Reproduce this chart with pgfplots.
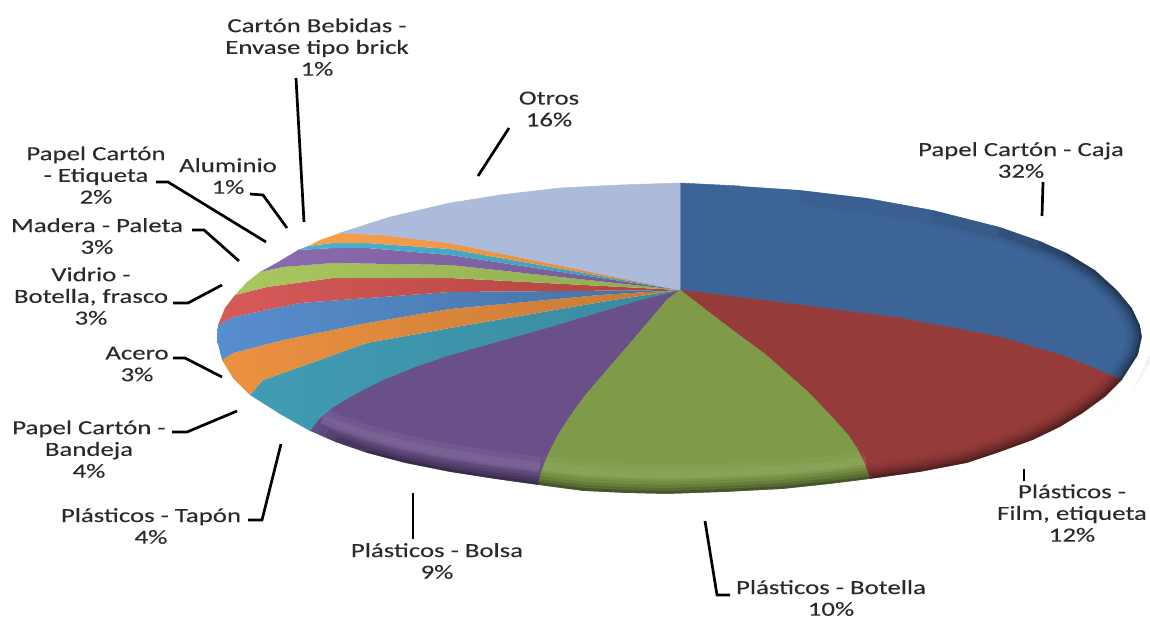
\documentclass[border=0pt]{standalone}
\usepackage{fontspec}
\setmainfont[FakeStretch=1.34,FakeBold=0.15]{Carlito}
\usepackage{pgfplots}
\pgfplotsset{compat=1.18}
\definecolor{txt}{HTML}{2A2A2A}
\definecolor{cOtros}{HTML}{ABBBD9}
\definecolor{cCaja}{HTML}{3D6497}
\definecolor{cFilm}{HTML}{953B3A}
\definecolor{cBot}{HTML}{7F9B49}
\definecolor{cBolsa}{HTML}{6A5088}
\definecolor{tapA}{HTML}{409CB4}\definecolor{tapB}{HTML}{3A8A9E}
\definecolor{banA}{HTML}{EC9140}\definecolor{banB}{HTML}{C47A35}
\definecolor{aceA}{HTML}{578ECF}\definecolor{aceB}{HTML}{44719F}
\definecolor{vidA}{HTML}{D75A59}\definecolor{vidB}{HTML}{AC4240}
\definecolor{madA}{HTML}{A9C75E}\definecolor{madB}{HTML}{8FAB50}
\definecolor{etiA}{HTML}{8B6BAF}\definecolor{etiB}{HTML}{735A93}
\definecolor{aluA}{HTML}{48B2CF}\definecolor{aluB}{HTML}{3F9AB0}
\definecolor{briA}{HTML}{F99F4A}\definecolor{briB}{HTML}{DD8B3F}
\tikzset{lab/.style={font=\fontsize{20}{21.7}\selectfont,text=txt,align=center,inner sep=0pt}}
\pgfplotsset{
  sl/.style={draw=#1,line width=0.5pt,fill=#1,no markers,forget plot},
  gr/.style 2 args={draw=none,left color=#1,right color=#2,no markers,forget plot},
  rim/.style 2 args={draw=black,draw opacity=#2,line width=#1pt,line join=round,no markers,forget plot},
  lite/.style 2 args={draw=white,draw opacity=#2,line width=#1pt,line join=round,no markers,forget plot},
  ld/.style={draw=black,line width=2.7pt,no markers,forget plot},
}
\begin{document}
\begin{tikzpicture}
\useasboundingbox (0,0) rectangle (1150pt,619pt);
\begin{axis}[
  scale only axis,width=1150pt,height=619pt,
  xmin=0,xmax=1150,ymin=0,ymax=619,y dir=reverse,
  hide axis,clip=false,
]
% slices, clockwise from the top
\addplot[sl=cCaja] coordinates {(680,290)(680,183)(740,186)(800,190)(867,198)(933,210)(1000,227)(1040,241)(1067,253)(1095,270)(1117,290)(1132,308)(1140,325)(1142,337)(1138,355)(1122,380)(1067,357)(1000,337)(900,318)(800,305)} -- cycle;
\addplot[sl=cFilm] coordinates {(680,290)(800,305)(900,318)(1000,337)(1067,357)(1122,380)(1105,397)(1083,413)(1060,427)(1033,440)(1000,452)(967,463)(920,472)(870,479)(865,465)(858,450)(848,435)(830,415)(808,392)(783,370)(766,355)(743,338)(719,320)(693,300)} -- cycle;
\addplot[sl=cBolsa] coordinates {(680,290)(667,300)(627,347)(607,370)(584,397)(569,418)(557,437)(548,455)(541,473)(538,485)(495,479)(450,472)(405,463)(367,453)(335,442)(310,431)(320,418)(333,407)(357,393)(383,380)(415,367)(450,355)(550,327)(640,300)} -- cycle;
\addplot[sl=cBot] coordinates {(680,290)(693,300)(719,320)(743,338)(766,355)(783,370)(808,392)(830,415)(848,435)(858,450)(865,465)(870,479)(830,484)(783,489)(725,492)(667,494)(625,493)(583,491)(538,485)(541,473)(548,455)(557,437)(569,418)(584,397)(607,370)(627,347)(667,300)} -- cycle;
\addplot[gr={tapA}{tapB}] coordinates {(680,290)(640,300)(550,327)(450,355)(415,367)(383,380)(357,393)(333,407)(320,418)(310,431)(280,414)(250,395)(263,380)(300,367)(367,343)(450,328)(613,300)} -- cycle;
\addplot[gr={banA}{banB}] coordinates {(680,290)(613,300)(450,328)(367,343)(300,367)(263,380)(250,395)(233,378)(222,360)(233,353)(283,340)(367,323)(450,309)(600,295)} -- cycle;
\addplot[gr={aceA}{aceB}] coordinates {(680,290)(600,295)(450,309)(367,323)(283,340)(233,353)(222,360)(217,340)(218,325)(233,317)(300,303)(450,292)} -- cycle;
\addplot[gr={vidA}{vidB}] coordinates {(680,290)(450,292)(300,303)(233,317)(218,325)(225,308)(235,295)(267,287)(333,278)(450,278)} -- cycle;
\addplot[gr={madA}{madB}] coordinates {(680,290)(450,278)(333,278)(267,287)(235,295)(247,282)(260,272)(283,267)(333,263)(450,265)} -- cycle;
\addplot[gr={etiA}{etiB}] coordinates {(680,290)(450,265)(333,263)(283,267)(260,272)(278,262)(298,250)(333,248)(367,248)(450,255)} -- cycle;
\addplot[gr={aluA}{aluB}] coordinates {(680,290)(450,255)(367,248)(333,248)(298,250)(308,246)(333,243)(367,243)(450,249)} -- cycle;
\addplot[gr={briA}{briB}] coordinates {(680,290)(450,249)(367,243)(333,243)(308,246)(320,240)(340,233)(383,235)(450,243)} -- cycle;
\addplot[sl=cOtros] coordinates {(680,290)(680,183)(620,185)(560,188)(500,195)(450,203)(390,217)(340,233)(383,235)(450,243)} -- cycle;
% soft highlight above the lower rim
\addplot[lite={16}{0.04}] coordinates {(866,459)(830,464)(783,468)(725,471)(667,472)(625,471)(583,469)(543,464)};
\addplot[lite={9}{0.05}] coordinates {(866,461)(830,466)(783,470)(725,473)(667,474)(625,473)(583,471)(543,466)};
\addplot[lite={16}{0.05}] coordinates {(540,465)(495,459)(450,452)(405,443)(367,433)(335,422)(324,417)};
\addplot[lite={9}{0.06}] coordinates {(540,467)(495,461)(450,454)(405,445)(367,435)(335,424)(322,419)};
% soft dark edge, narrower strokes run over a shorter stretch
\addplot[rim={30}{0.04}] coordinates {(800,190)(867,198)(933,210)(1000,227)(1040,241)(1067,253)(1095,270)(1117,290)(1132,308)(1140,325)(1142,337)(1138,355)(1122,380)(1105,397)(1083,413)(1060,427)(1033,440)(1000,452)(967,463)(920,472)(870,479)(830,484)(783,489)(725,492)(667,494)(625,493)(583,491)(538,485)(495,479)(450,472)(405,463)(367,453)(335,442)(310,431)};
\addplot[rim={24}{0.05}] coordinates {(933,210)(1000,227)(1040,241)(1067,253)(1095,270)(1117,290)(1132,308)(1140,325)(1142,337)(1138,355)(1122,380)(1105,397)(1083,413)(1060,427)(1033,440)(1000,452)(967,463)(920,472)(870,479)(830,484)(783,489)(725,492)(667,494)(625,493)(583,491)(538,485)(495,479)(450,472)(405,463)(367,453)(335,442)(318,435)};
\addplot[rim={18}{0.10}] coordinates {(1000,227)(1040,241)(1067,253)(1095,270)(1117,290)(1132,308)(1140,325)(1142,337)(1138,355)(1122,380)(1105,397)(1083,413)(1060,427)(1033,440)(1000,452)(967,463)(920,472)(870,479)(830,484)(783,489)(725,492)(667,494)(625,493)(583,491)(538,485)(495,479)(450,472)(405,463)(367,453)(335,442)(325,438)};
\addplot[rim={12}{0.13}] coordinates {(1040,241)(1067,253)(1095,270)(1117,290)(1132,308)(1140,325)(1142,337)(1138,355)(1122,380)(1105,397)(1083,413)(1060,427)(1033,440)(1000,452)(967,463)(920,472)(870,479)(830,484)(783,489)(725,492)(667,494)(625,493)(583,491)(538,485)(495,479)(450,472)(405,463)(367,453)(335,442)};
\addplot[rim={6}{0.20}] coordinates {(1067,253)(1095,270)(1117,290)(1132,308)(1140,325)(1142,337)(1138,355)(1122,380)(1105,397)(1083,413)(1060,427)(1033,440)(1000,452)(967,463)(920,472)(870,479)(830,484)(783,489)(725,492)(667,494)(625,493)(583,491)(538,485)(495,479)(450,472)(405,463)(367,453)};
% white mask over the half of those strokes that falls outside the pie
\addplot[draw=none,fill=white,no markers,forget plot] coordinates {(740,186)(800,190)(867,198)(933,210)(1000,227)(1040,241)(1067,253)(1095,270)(1117,290)(1132,308)(1140,325)(1142,337)(1138,355)(1122,380)(1105,397)(1083,413)(1060,427)(1033,440)(1000,452)(967,463)(920,472)(870,479)(830,484)(783,489)(725,492)(667,494)(625,493)(583,491)(538,485)(495,479)(450,472)(405,463)(367,453)(335,442)(310,431)(295,445)(360,475)(450,495)(540,510)(667,518)(790,512)(880,500)(1000,475)(1080,435)(1130,395)(1150,355)(1150,270)(1110,245)(1060,225)(1000,205)(930,190)(800,170)(740,170)} -- cycle;
% leader lines
\addplot[ld] coordinates {(296,78)(304,222)};
\addplot[ld] coordinates {(250,194)(263,195)(287,228)};
\addplot[ld] coordinates {(156,182)(168,182)(266,242)};
\addplot[ld] coordinates {(192,230)(204,230)(239,261)};
\addplot[ld] coordinates {(173,303)(188,303)(222,285)};
\addplot[ld] coordinates {(173,358)(185,358)(222,377)};
\addplot[ld] coordinates {(172,432)(187,432)(237,411)};
\addplot[ld] coordinates {(248,520)(262,520)(281,444)};
\addplot[ld] coordinates {(413,493)(413,539)};
\addplot[ld] coordinates {(705,521)(717,595)(730,595)};
\addplot[ld] coordinates {(1024,469)(1024,481)};
\addplot[ld] coordinates {(1043,182)(1042,216)};
\addplot[ld] coordinates {(509,128)(478,176)};
% labels
\node[lab] at (axis cs:317,47) {Cartón Bebidas -\\Envase tipo brick\\1\%};
\node[lab] at (axis cs:549,109) {Otros\\16\%};
\node[lab] at (axis cs:1021,160) {Papel Cartón - Caja\\32\%};
\node[lab] at (axis cs:96,175) {Papel Cartón\\- Etiqueta\\2\%};
\node[lab] at (axis cs:228,176) {Aluminio\\1\%};
\node[lab] at (axis cs:97,236) {Madera - Paleta\\3\%};
\node[lab] at (axis cs:91,296) {Vidrio -\\Botella, frasco\\3\%};
\node[lab] at (axis cs:137,364) {Acero\\3\%};
\node[lab] at (axis cs:89,449) {Papel Cartón -\\Bandeja\\4\%};
\node[lab] at (axis cs:151,526) {Plásticos - Tapón\\4\%};
\node[lab] at (axis cs:437,561) {Plásticos - Bolsa\\9\%};
\node[lab] at (axis cs:831,598) {Plásticos - Botella\\10\%};
\node[lab] at (axis cs:1072,513) {Plásticos -\\Film, etiqueta\\12\%};
\end{axis}
\end{tikzpicture}
\end{document}
